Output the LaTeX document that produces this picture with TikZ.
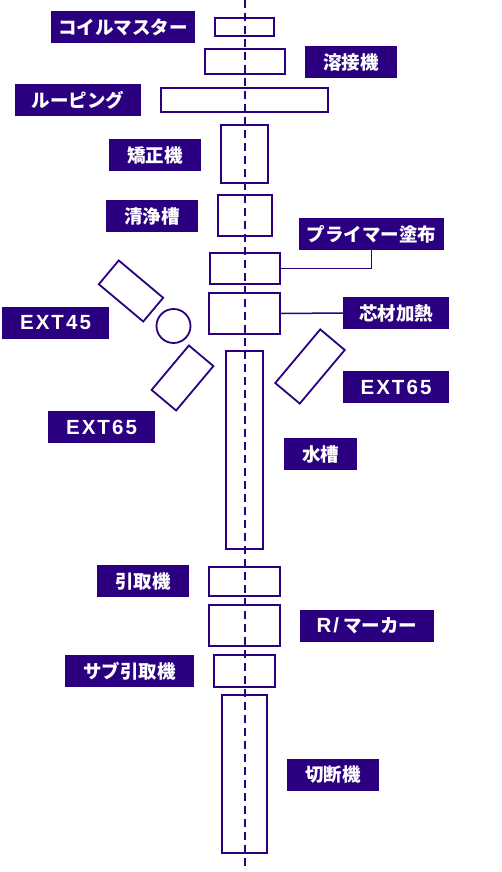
\documentclass[tikz,border=0pt]{standalone}
\usepackage{fontspec}
\usepackage{xcolor}
\usetikzlibrary{positioning,calc}
\newfontfamily\jpfont{Noto Sans CJK JP}
\newfontfamily\latinfont{Liberation Sans}[LetterSpace=10]
\definecolor{lineblue}{RGB}{42,0,128}
\tikzset{
  unit/.style={draw=lineblue, line width=1.8pt, inner sep=0pt},
  tag/.style={fill=lineblue, text=white, inner sep=0pt, minimum height=32pt,
    font=\jpfont\bfseries\fontsize{18.5}{18.5}\selectfont},
  lead/.style={draw=lineblue, line width=1.5pt},
  axisline/.style={draw=lineblue, line width=2.4pt, dash pattern=on 8pt off 5pt}
}
\newcommand{\spaced}[1]{{\latinfont\bfseries\fontsize{20.5}{20.5}\selectfont #1}}

\begin{document}
\begin{tikzpicture}[x=1pt,y=-1pt]
    \useasboundingbox (0,0) rectangle (502,872);

    % Units on the line
    \node[unit, minimum width=59pt, minimum height=18pt] (coil) at (244.5,27) {};
    \node[unit, minimum width=80pt, minimum height=25pt] (weld) at (245,61.5) {};
    \node[unit, minimum width=167pt, minimum height=24pt] (loop) at (244.5,100) {};
    \node[unit, minimum width=47pt, minimum height=58pt] (leveler) at (244.5,154) {};
    \node[unit, minimum width=54pt, minimum height=41pt] (wash) at (245,215.5) {};
    \node[unit, minimum width=70pt, minimum height=31pt] (primer) at (245,268.5) {};
    \node[unit, minimum width=71pt, minimum height=41pt] (heat) at (244.5,313.5) {};
    \node[unit, minimum width=37pt, minimum height=198pt] (water) at (244.5,450) {};
    \node[unit, minimum width=71pt, minimum height=29pt] (puller) at (244.5,581.5) {};
    \node[unit, minimum width=71pt, minimum height=41pt] (marker) at (244.5,625.5) {};
    \node[unit, minimum width=61pt, minimum height=32pt] (subpuller) at (244.5,671) {};
    \node[unit, minimum width=45pt, minimum height=158pt] (cutter) at (244.5,774) {};

    % Extruders round the head
    \node[unit, minimum width=58pt, minimum height=31pt, rotate=-40] (extA) at (131,291) {};
    \node[unit, circle, minimum size=34pt] (head) at (173.5,326) {};
    \node[unit, minimum width=58pt, minimum height=32pt, rotate=50] (extB) at (182.5,378) {};
    \node[unit, minimum width=70pt, minimum height=32pt, rotate=50] (extC) at (310,366.5) {};

    % Labels
    \node[tag, minimum width=144pt] (coiltag) at (123,27) {コイルマスター};
    \node[tag, minimum width=92pt] (weldtag) at (351,62) {溶接機};
    \node[tag, minimum width=126pt] (looptag) at (78,100) {ルーピング};
    \node[tag, minimum width=92pt] (levelertag) at (155,155) {矯正機};
    \node[tag, minimum width=92pt] (washtag) at (152,216) {清浄槽};
    \node[tag, minimum width=145pt] (primertag) at (371.5,234) {プライマー塗布};
    \node[tag, minimum width=106pt] (heattag) at (396,313) {芯材加熱};
    \node[tag, minimum width=107pt] (extAtag) at (55.5,323) {\spaced{EXT45}};
    \node[tag, minimum width=107pt] (extBtag) at (101.5,427) {\spaced{EXT65}};
    \node[tag, minimum width=106pt] (extCtag) at (396,387) {\spaced{EXT65}};
    \node[tag, minimum width=73pt] (watertag) at (320.5,454) {水槽};
    \node[tag, minimum width=92pt] (pullertag) at (143,581) {引取機};
    \node[tag, minimum width=134pt] (markertag) at (367,625.5) {\spaced{R/}\ マーカー};
    \node[tag, minimum width=129pt] (subpullertag) at (129.5,671) {サブ引取機};
    \node[tag, minimum width=92pt] (cuttertag) at (333,775) {切断機};

    % Leaders
    \draw[lead] (primer.east) -| (primertag.south);
    \draw[lead] (heat.east) -- (heattag.west);

    % Centre line
    \coordinate (linetop) at (245,0);
    \coordinate (lineend) at (245,870);
    \draw[axisline] (linetop) -- (lineend);
\end{tikzpicture}
\end{document}
